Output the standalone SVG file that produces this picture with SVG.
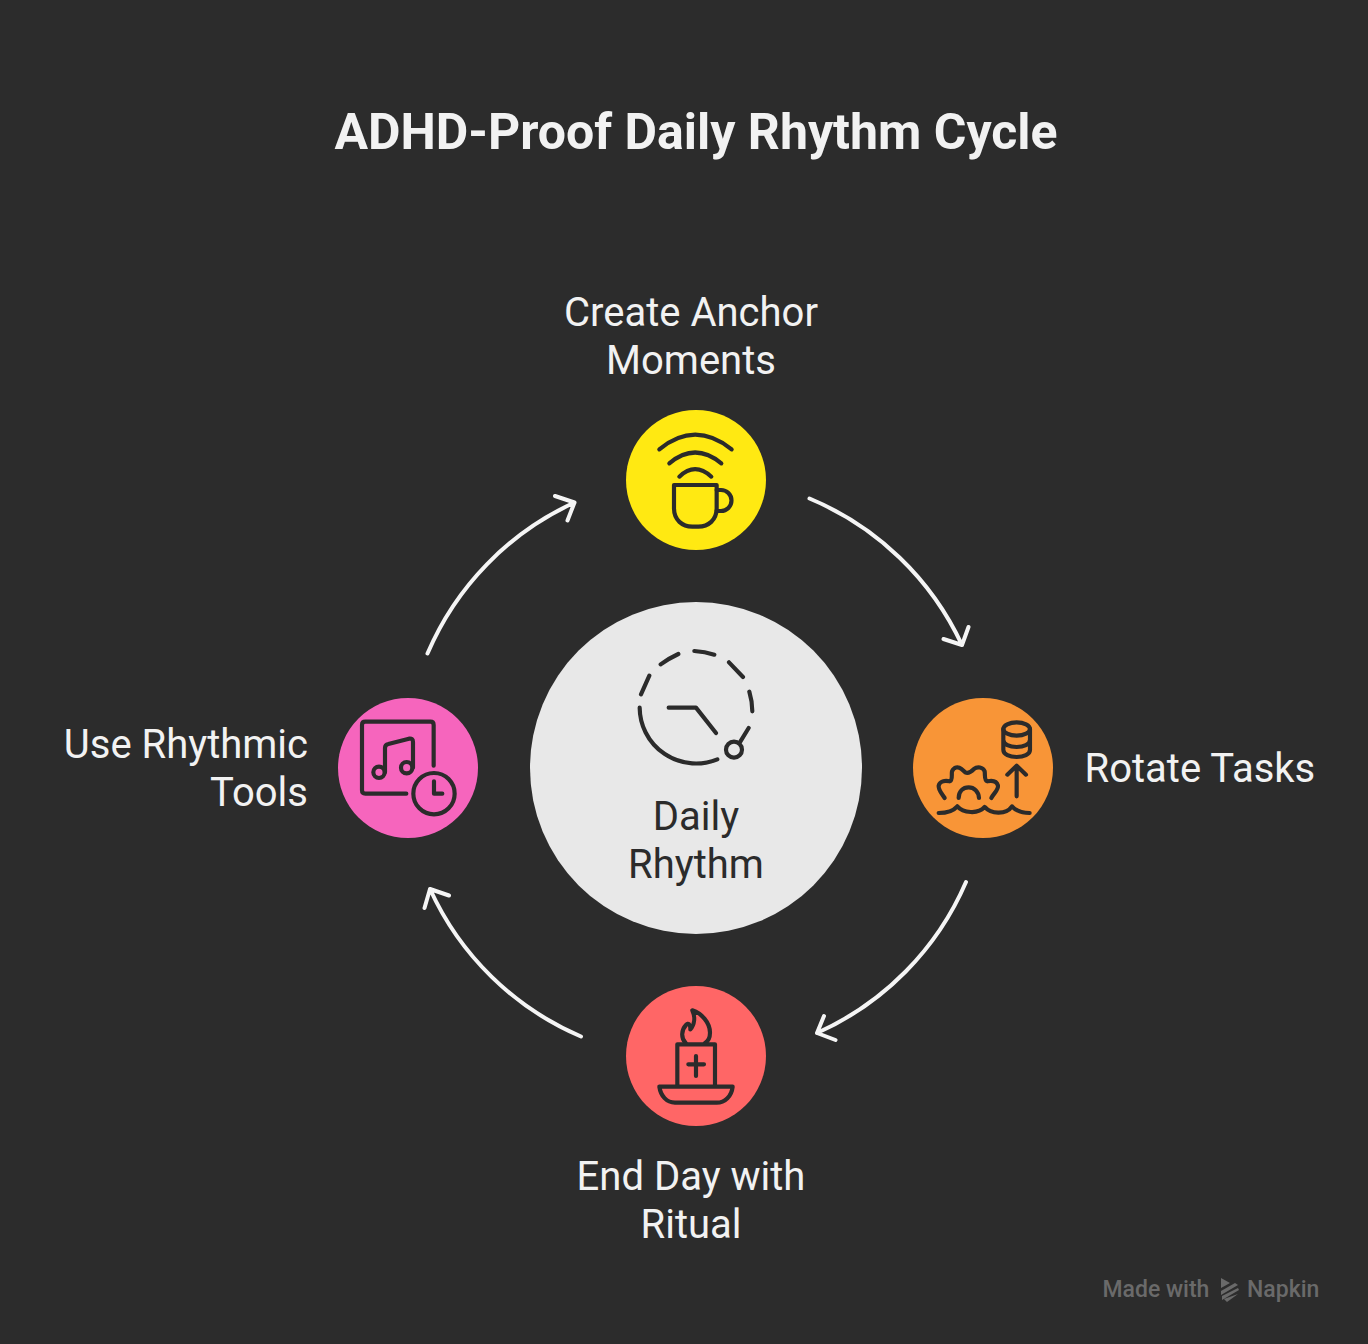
<svg xmlns="http://www.w3.org/2000/svg" width="1368" height="1344" viewBox="0 0 1368 1344">
<style>
text{font-family:Roboto,"Liberation Sans",sans-serif}
.t{font-size:40px;fill:#f2f2f2}
.w{font-size:23px;font-weight:500;fill:#6a6a6a}
.i{fill:none;stroke:#2b2b2b;stroke-width:12.5;stroke-linecap:round;stroke-linejoin:round}
.c{fill:none;stroke:#f5f5f5;stroke-width:4;stroke-linecap:round;stroke-linejoin:round}
</style>
<rect width="1368" height="1344" fill="#2c2c2c"/>
<text x="696" y="148.500" text-anchor="middle" font-size="50" font-weight="700" fill="#f2f2f2">ADHD-Proof Daily Rhythm Cycle</text>
<g id="connectors">
<path class="c" d="M809.500 498.500A292 292 0 0 1 962 645M943.500 639L962 645L968.500 627"/>
<path class="c" d="M966 882A292 292 0 0 1 817 1033M835.500 1040L817 1033L824 1016"/>
<path class="c" d="M581 1036.500A292 292 0 0 1 430 889M424.500 908L430 889L449 895.500"/>
<path class="c" d="M427.500 653.500A292 292 0 0 1 574.500 502.500M555 496L574.500 502.500L567.500 520.500"/>
</g>
<g id="node-center">
<circle cx="696" cy="768" r="166" fill="#e8e8e8"/>
<g class="i" transform="translate(625 640) scale(.3333)">
<path d="M44 203A169 169 0 0 0 277 358M48 163L73 107M107 73Q132 55 160 42M208 33Q240 35 268 44M312 67L354 111M373 155Q382 185 382 214M371 264L346 305M131 203H213L273 279"/>
<circle cx="327" cy="329" r="24"/>
</g>
<text x="696" y="830" text-anchor="middle" font-size="40" fill="#2b2b2b">Daily</text>
<text x="696" y="878" text-anchor="middle" font-size="40" fill="#2b2b2b">Rhythm</text>
</g>
<g id="node-anchor">
<circle cx="696" cy="480" r="70" fill="#ffe912"/>
<g class="i" transform="translate(620 405) scale(.3333)">
<path d="M118 133Q225 45 335 133M148 175Q225 110 304 175M178 215Q225 170 274 215"/>
<path d="M162 240H290V310C290 345 265 365 235 365H217C187 365 162 345 162 310Z"/>
<path d="M290 255H303A31 31 0 0 1 303 318H290"/>
</g>
<text class="t" x="691" y="326" text-anchor="middle">Create Anchor</text>
<text class="t" x="691" y="374" text-anchor="middle">Moments</text>
</g>
<g id="node-rotate">
<circle cx="983" cy="768" r="70" fill="#f89537"/>
<g class="i" transform="translate(908 693) scale(.3333)">
<ellipse cx="326" cy="108" rx="40" ry="20"/>
<path d="M286 108V170C286 184 305 192 326 192S366 184 366 170V108M286 140C286 154 305 162 326 162S366 154 366 140"/>
<path d="M326 310V220M298 245L326 218L354 245"/>
<path d="M110 315C100 300 90 290 92 278C95 265 110 262 125 265C135 262 130 245 132 235C138 222 150 220 160 228L172 238C180 242 190 236 198 228C208 220 225 222 230 235C232 248 228 262 238 265C252 262 266 264 270 278C272 290 258 300 250 315"/>
<path d="M152 315C152 295 165 283 182 283C198 283 212 295 213 315"/>
<path d="M92 360C115 360 135 355 148 340C165 360 210 365 230 342C250 365 295 365 312 340C325 355 345 360 365 360"/>
</g>
<text class="t" x="1084.500" y="782">Rotate Tasks</text>
</g>
<g id="node-ritual">
<circle cx="696" cy="1056" r="70" fill="#ff6666"/>
<g class="i" transform="translate(620 981) scale(.3333)">
<path d="M197 186C183 172 183 148 198 132C204 124 212 130 211 145C224 130 226 108 217 88C245 97 270 125 270 155C270 170 265 180 255 186"/>
<path d="M172 312V190H285V312M228 225V285M205 250H252"/>
<path d="M118 317H338C335 345 315 365 290 365H165C140 365 122 345 118 317Z"/>
</g>
<text class="t" x="691" y="1190" text-anchor="middle">End Day with</text>
<text class="t" x="691" y="1238" text-anchor="middle">Ritual</text>
</g>
<g id="node-tools">
<circle cx="408" cy="768" r="70" fill="#f665bd"/>
<g class="i" transform="translate(333 693) scale(.3333)">
<path d="M220 302H97Q87 302 87 292V96Q87 86 97 86H292Q302 86 302 96V218"/>
<circle cx="138" cy="238" r="17"/>
<circle cx="221" cy="224" r="17"/>
<path d="M156 238V165Q156 155 166 153L228 137Q240 135 240 147V224"/>
<circle cx="303" cy="302" r="62"/>
<path d="M303 265V302H328"/>
</g>
<text class="t" x="308" y="758" text-anchor="end">Use Rhythmic</text>
<text class="t" x="308" y="806" text-anchor="end">Tools</text>
</g>
<g id="watermark">
<text class="w" x="1102.500" y="1296.500">Made with</text>
<path fill="#6a6a6a" d="M1221 1278L1230 1283L1221 1288ZM1238 1285L1221 1295V1291L1235 1283ZM1239 1290L1222 1300V1296L1238 1288ZM1238 1294L1227 1302L1224 1299Z"/>
<text class="w" x="1247" y="1296.500">Napkin</text>
</g>
</svg>
